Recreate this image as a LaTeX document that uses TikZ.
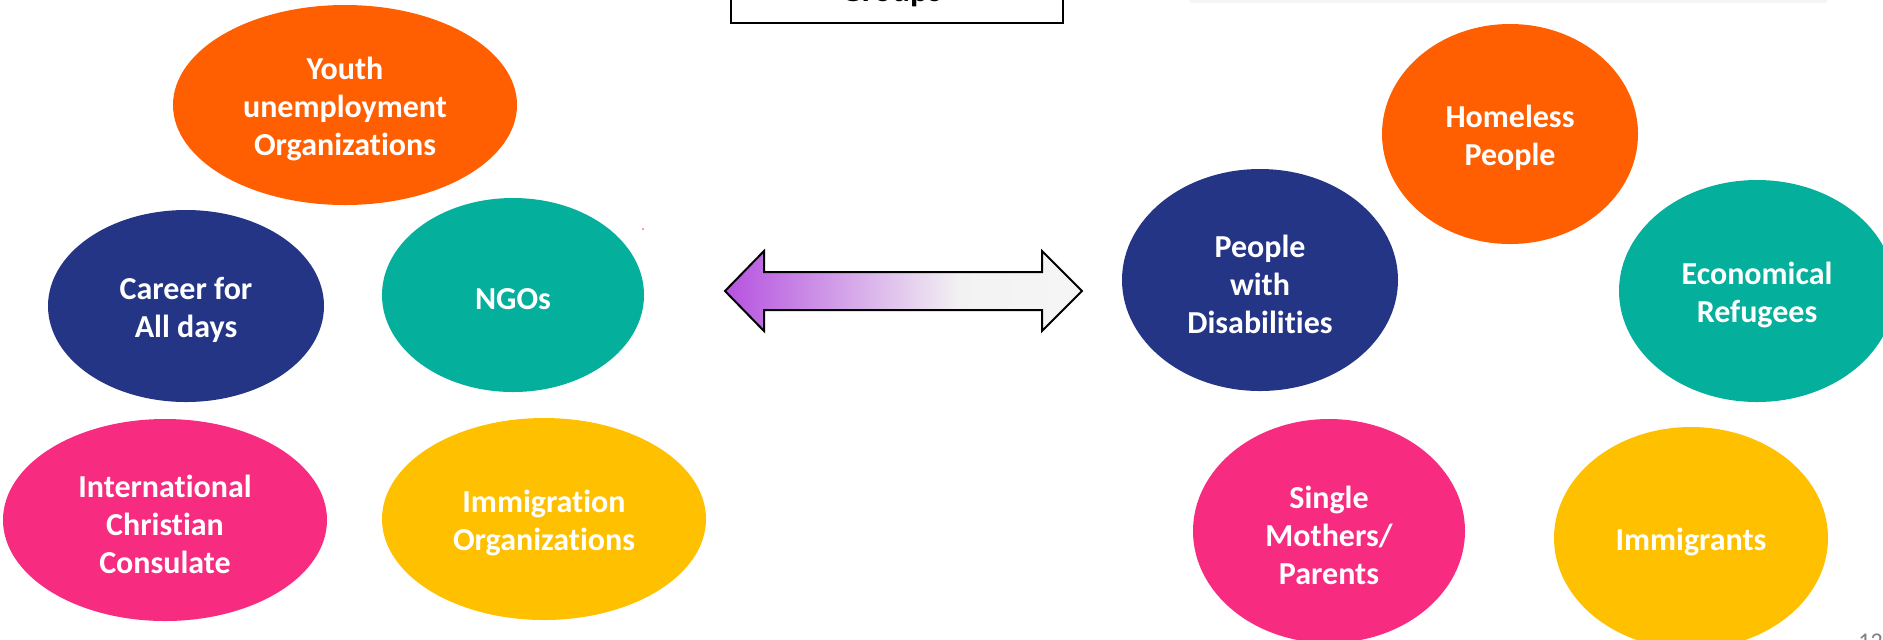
\documentclass[tikz,border=0pt]{standalone}
\usepackage{fontspec}
\setmainfont{Carlito}[Ligatures=NoCommon]
\usetikzlibrary{shapes.geometric}
\definecolor{corange}{HTML}{FF5F00}
\definecolor{cnavy}{HTML}{253585}
\definecolor{cteal}{HTML}{04AF9B}
\definecolor{cpink}{HTML}{F72B80}
\definecolor{cyellow}{HTML}{FFC000}
\definecolor{cpurple}{HTML}{B552DF}
\pgfdeclarehorizontalshading{fade}{100bp}{color(0bp)=(cpurple); color(25bp)=(cpurple); color(58bp)=(white!95!black); color(100bp)=(white!98!black)}
\begin{document}
\begin{tikzpicture}[x=.5pt, y=-.5pt,
    blob/.style={ellipse, inner sep=0pt},
    lbl/.style={text=white, align=center, font=\fontsize{16}{19}\selectfont\bfseries, yshift=-2pt}]
\useasboundingbox (0,0) rectangle (1883,639);
\clip (0,0) rectangle (1883,639);

% header bits cut by the frame
\fill[gray!8] (1190,-20) rectangle (1827,3);
\draw[line width=.8pt] (731,-40) rectangle (1063,23);
\node[anchor=base, font=\fontsize{17}{20}\selectfont\bfseries] (grp) at (891,1) {Groups};

% organizations
\node[blob, fill=corange, minimum width=172pt, minimum height=100pt, label={[lbl]center:{Youth\\unemployment\\Organizations}}] (youth) at (345,105) {};
\node[blob, fill=cnavy, minimum width=138pt, minimum height=96pt, label={[lbl]center:{Career for\\All days}}] (career) at (186,306) {};
\node[blob, fill=cteal, minimum width=131pt, minimum height=97pt, label={[lbl]center:{NGOs}}] (ngo) at (513,295) {};
\node[blob, fill=cpink, minimum width=162pt, minimum height=101pt, label={[lbl]center:{International\\Christian\\Consulate}}] (icc) at (165,520) {};
\node[blob, fill=cyellow, minimum width=162pt, minimum height=101pt, label={[lbl]center:{Immigration\\Organizations}}] (immorg) at (544,519) {};
\fill[cpink] (643,229) circle (.8);

% groups
\node[blob, fill=corange, minimum width=128pt, minimum height=110pt, label={[lbl]center:{Homeless\\People}}] (homeless) at (1510,134) {};
\node[blob, fill=cnavy, minimum width=138pt, minimum height=111pt, label={[lbl]center:{People\\with\\Disabilities}}] (disab) at (1260,280) {};
\node[blob, fill=cteal, minimum width=138pt, minimum height=111pt, label={[lbl]center:{Economical\\Refugees}}] (refug) at (1757,291) {};
\node[blob, fill=cpink, minimum width=136pt, minimum height=112pt, label={[lbl]center:{Single\\Mothers/\\Parents}}] (single) at (1329,531) {};
\node[blob, fill=cyellow, minimum width=137pt, minimum height=111pt, label={[lbl]center:{Immigrants}}] (immig) at (1691,538) {};

% double arrow
\coordinate (tipL) at (725,291);
\coordinate (tipR) at (1082,291);
\shade[shading=fade, draw=black, line width=1pt, line join=miter]
    (tipL) -- (764,251) -- (764,272) -- (1042,272) -- (1042,251) -- (tipR)
    -- (1042,331) -- (1042,310) -- (764,310) -- (764,331) -- cycle;

\node[anchor=north west, inner sep=0pt, text=gray, font=\fontsize{12}{14}\selectfont] (pg) at (1858,634) {12};
\end{tikzpicture}
\end{document}
